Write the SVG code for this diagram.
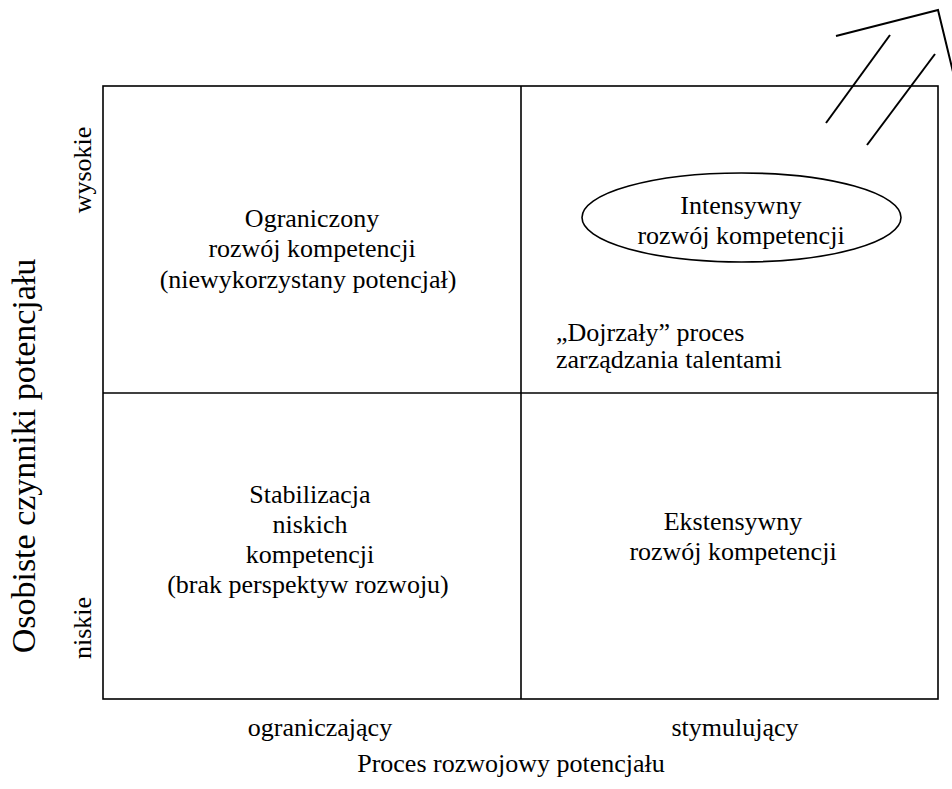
<svg xmlns="http://www.w3.org/2000/svg" width="952" height="789" viewBox="0 0 952 789">
<style>
  .t { font-size: 26px; fill: #000; }
  .c { text-anchor: middle; }
  .big { font-size: 34px; }
  .frame { fill: none; stroke: #000; stroke-width: 1.6; }
  .arrow { fill: none; stroke: #000; stroke-width: 2; }
</style>
<rect width="952" height="789" fill="#fff"/>
<g id="matrix">
  <rect class="frame" x="103" y="86" width="835" height="613"/>
  <line class="frame" x1="521" y1="86" x2="521" y2="699"/>
  <line class="frame" x1="103" y1="393" x2="938" y2="393"/>
</g>
<g id="connectors">
  <polyline class="arrow" points="836,36 938,10 953,72"/>
  <line class="arrow" x1="890" y1="35" x2="826" y2="123"/>
  <line class="arrow" x1="935" y1="54" x2="867" y2="145"/>
</g>
<g font-family="Liberation Serif, Times New Roman, Times, DejaVu Serif, serif" class="t">
<g id="q-top-left">
  <text class="c" x="312" y="227">Ograniczony</text>
  <text class="c" x="312" y="257">rozwój kompetencji</text>
  <text class="c" x="308" y="288">(niewykorzystany potencjał)</text>
</g>
<g id="q-top-right">
  <ellipse class="frame" cx="741.5" cy="217.5" rx="159.5" ry="44.5"/>
  <text class="c" x="741" y="214">Intensywny</text>
  <text class="c" x="741" y="244">rozwój kompetencji</text>
</g>
<g id="mature">
  <text x="556" y="341">„Dojrzały” proces</text>
  <text x="556" y="368">zarządzania talentami</text>
</g>
<g id="q-bottom-left">
  <text class="c" x="310" y="503">Stabilizacja</text>
  <text class="c" x="310" y="533">niskich</text>
  <text class="c" x="310" y="563">kompetencji</text>
  <text class="c" x="308" y="593">(brak perspektyw rozwoju)</text>
</g>
<g id="q-bottom-right">
  <text class="c" x="733" y="530">Ekstensywny</text>
  <text class="c" x="733" y="560">rozwój kompetencji</text>
</g>
<g id="x-axis">
  <text class="c" x="320" y="736">ograniczający</text>
  <text class="c" x="735" y="736">stymulujący</text>
  <text class="c" x="511" y="772">Proces rozwojowy potencjału</text>
</g>
<g id="y-axis">
  <text class="c" transform="translate(91,170) rotate(-90)">wysokie</text>
  <text class="c" transform="translate(91,628) rotate(-90)">niskie</text>
  <text class="c big" transform="translate(35,456) rotate(-90)">Osobiste czynniki potencjału</text>
</g>
</g>
</svg>
